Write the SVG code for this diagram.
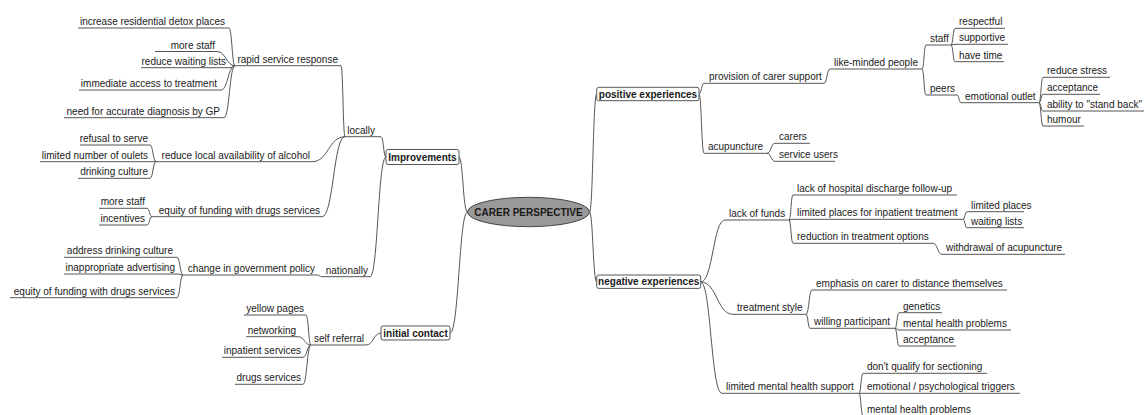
<svg xmlns="http://www.w3.org/2000/svg" width="1144" height="415" viewBox="0 0 1144 415">
<style>
text{font-family:"Liberation Sans",Arial,sans-serif;font-size:10px;fill:#1a1a1a}
.l{text-anchor:end}
.b{font-weight:bold}
.c{text-anchor:middle}
.u{stroke:#555;stroke-width:1;fill:none}
.cn path{stroke:#555;stroke-width:1;fill:none}
.box{fill:#fff;stroke:#555;stroke-width:1}
</style>
<rect width="1144" height="415" fill="#fff"/>
<g class="cn" id="connectors">
<path d="M235,65.7 C232,65.7 232,28 229,28"/>
<path d="M235,65.7 C226,65.7 226,51.5 217,51.5"/>
<path d="M235,65.7 C232.5,65.7 232.5,67.7 230,67.7"/>
<path d="M235,65.7 C228,65.7 228,90 221,90"/>
<path d="M235,65.7 C229.5,65.7 229.5,117.7 224,117.7"/>
<path d="M345,136.7 C343,136.7 343,65.7 341,65.7"/>
<path d="M345,136.7 C328.5,136.7 328.5,161.7 312,161.7"/>
<path d="M345,136.7 C333.5,136.7 333.5,216.7 322,216.7"/>
<path d="M156,161.7 C153,161.7 153,145 150,145"/>
<path d="M156,161.7 L150,161.7"/>
<path d="M156,161.7 C153,161.7 153,178.3 150,178.3"/>
<path d="M152,216.7 C149.5,216.7 149.5,208.3 147,208.3"/>
<path d="M152,216.7 C149.5,216.7 149.5,225 147,225"/>
<path d="M322,276.7 C319.5,276.7 319.5,275 317,275"/>
<path d="M183,275 C180,275 180,257.3 177,257.3"/>
<path d="M183,275 C180,275 180,274 177,274"/>
<path d="M183,275 C180,275 180,297.7 177,297.7"/>
<path d="M386,157 C383.5,157 383.5,136.7 381,136.7"/>
<path d="M386,157 C378,157 378,276.7 370,276.7"/>
<path d="M467.5,212 C463,212 463,157 459,157"/>
<path d="M467.5,212 C459,212 459,333 450,333"/>
<path d="M381,333 C373.5,333 373.5,345 366,345"/>
<path d="M311,345 C308.5,345 308.5,315 306,315"/>
<path d="M311,345 C304.5,345 304.5,336.7 298,336.7"/>
<path d="M311,345 C307,345 307,357.3 303,357.3"/>
<path d="M311,345 C307,345 307,384.3 303,384.3"/>
<path d="M589.5,212 C593,212 593,94 596.7,94"/>
<path d="M589.5,212 C593,212 593,282 596.7,282"/>
<path d="M699,94 C701.5,94 701.5,83.3 704,83.3"/>
<path d="M699,94 C701.5,94 701.5,153.3 704,153.3"/>
<path d="M824,83.3 C827,83.3 827,69 830,69"/>
<path d="M922,69 C924,69 924,45 926,45"/>
<path d="M922,69 C924,69 924,95 926,95"/>
<path d="M951,45 C953,45 953,28.3 955,28.3"/>
<path d="M951,45 L955,44.3"/>
<path d="M951,45 C953,45 953,61.7 955,61.7"/>
<path d="M957,95 C959,95 959,102.7 961,102.7"/>
<path d="M1039,102.7 C1041,102.7 1041,77.3 1043,77.3"/>
<path d="M1039,102.7 C1041,102.7 1041,94.3 1043,94.3"/>
<path d="M1039,102.7 C1041,102.7 1041,111 1043,111"/>
<path d="M1039,102.7 C1041,102.7 1041,126 1043,126"/>
<path d="M767,153.3 C771,153.3 771,143.3 775,143.3"/>
<path d="M767,153.3 C771,153.3 771,161.3 775,161.3"/>
<path d="M700.7,282 C713,282 713,220 725,220"/>
<path d="M700.7,282 C717,282 717,314.3 733,314.3"/>
<path d="M700.7,282 C711,282 711,393.3 722,393.3"/>
<path d="M789,220 C791,220 791,195 793,195"/>
<path d="M789,220 L793,219.3"/>
<path d="M789,220 C791,220 791,243.3 793,243.3"/>
<path d="M963,219.3 C965,219.3 965,211.7 967,211.7"/>
<path d="M963,219.3 C965,219.3 965,227.7 967,227.7"/>
<path d="M933,243.3 C937.5,243.3 937.5,254.3 942,254.3"/>
<path d="M806,314.3 C809,314.3 809,290 812,290"/>
<path d="M806,314.3 C808,314.3 808,328.3 810,328.3"/>
<path d="M895,328.3 C897,328.3 897,312.7 899,312.7"/>
<path d="M895,328.3 C897,328.3 897,330 899,330"/>
<path d="M895,328.3 C897,328.3 897,346 899,346"/>
<path d="M859,393.3 C861,393.3 861,373.3 863,373.3"/>
<path d="M859,393.3 L863,393.3"/>
<path d="M859,393.3 C861,393.3 861,416 863,416"/>
</g>
<g id="center"><ellipse cx="528.5" cy="212" rx="61" ry="14.7" fill="#999" stroke="#444"/><text class="b c" x="528.5" y="215.5">CARER PERSPECTIVE</text></g>
<g id="improvements"><rect class="box" x="386" y="149.5" width="73" height="15" rx="2"/><text class="b c" x="422.5" y="160.5">Improvements</text></g>
<g id="initial-contact"><rect class="box" x="381" y="326" width="69" height="14" rx="2"/><text class="b c" x="415.5" y="336.8">initial contact</text></g>
<g id="positive"><rect class="box" x="596.7" y="87.3" width="102.3" height="13.4" rx="2"/><text class="b c" x="648" y="97.6">positive experiences</text></g>
<g id="negative"><rect class="box" x="596.7" y="275" width="104" height="13.4" rx="2"/><text class="b c" x="648.7" y="285.4">negative experiences</text></g>
<g id="n1"><path class="u" d="M78,28H229"/><text class="l" x="225" y="25">increase residential detox places</text></g>
<g id="n2"><path class="u" d="M155,51.5H217"/><text class="l" x="215" y="48.5">more staff</text></g>
<g id="n3"><path class="u" d="M141,67.7H230"/><text class="l" x="226" y="64.7">reduce waiting lists</text></g>
<g id="n4"><path class="u" d="M79,90H221"/><text class="l" x="217" y="87">immediate access to treatment</text></g>
<g id="n5"><path class="u" d="M64,117.7H224"/><text class="l" x="220" y="114.7">need for accurate diagnosis by GP</text></g>
<g id="n6"><path class="u" d="M235,65.7H341"/><text class="l" x="338" y="62.7">rapid service response</text></g>
<g id="n7"><path class="u" d="M80,145H150"/><text class="l" x="148" y="142">refusal to serve</text></g>
<g id="n8"><path class="u" d="M40,161.7H150"/><text class="l" x="148" y="158.7">limited number of oulets</text></g>
<g id="n9"><path class="u" d="M78,178.3H150"/><text class="l" x="148" y="175.3">drinking culture</text></g>
<g id="n10"><path class="u" d="M156,161.7H312"/><text class="l" x="310" y="158.7">reduce local availability of alcohol</text></g>
<g id="n11"><path class="u" d="M99,208.3H147"/><text class="l" x="145" y="205.3">more staff</text></g>
<g id="n12"><path class="u" d="M99,225H147"/><text class="l" x="145" y="222">incentives</text></g>
<g id="n13"><path class="u" d="M152,216.7H322"/><text class="l" x="320" y="213.7">equity of funding with drugs services</text></g>
<g id="n14"><path class="u" d="M345,136.7H381"/><text class="l" x="375" y="133.7">locally</text></g>
<g id="n15"><path class="u" d="M64,257.3H177"/><text class="l" x="173" y="254.3">address drinking culture</text></g>
<g id="n16"><path class="u" d="M64,274H177"/><text class="l" x="175" y="271">inappropriate advertising</text></g>
<g id="n17"><path class="u" d="M10,297.7H177"/><text class="l" x="175" y="294.7">equity of funding with drugs services</text></g>
<g id="n18"><path class="u" d="M183,275H317"/><text class="l" x="315" y="272">change in government policy</text></g>
<g id="n19"><path class="u" d="M322,276.7H370"/><text class="l" x="368" y="273.7">nationally</text></g>
<g id="n20"><path class="u" d="M244,315H306"/><text class="l" x="304" y="312">yellow pages</text></g>
<g id="n21"><path class="u" d="M246,336.7H298"/><text class="l" x="296" y="333.7">networking</text></g>
<g id="n22"><path class="u" d="M222,357.3H303"/><text class="l" x="301" y="354.3">inpatient services</text></g>
<g id="n23"><path class="u" d="M235,384.3H303"/><text class="l" x="301" y="381.3">drugs services</text></g>
<g id="n24"><path class="u" d="M311,345H366"/><text class="l" x="364" y="342">self referral</text></g>
<g id="r1"><path class="u" d="M704,83.3H824"/><text x="709" y="80.3">provision of carer support</text></g>
<g id="r2"><path class="u" d="M830,69H922"/><text x="834" y="66">like-minded people</text></g>
<g id="r3"><path class="u" d="M926,45H951"/><text x="930" y="42">staff</text></g>
<g id="r4"><path class="u" d="M955,28.3H1005"/><text x="959" y="25.3">respectful</text></g>
<g id="r5"><path class="u" d="M955,44.3H1008"/><text x="959" y="41.3">supportive</text></g>
<g id="r6"><path class="u" d="M955,61.7H1004"/><text x="959" y="58.7">have time</text></g>
<g id="r7"><path class="u" d="M926,95H957"/><text x="930" y="92">peers</text></g>
<g id="r8"><path class="u" d="M961,102.7H1039"/><text x="965" y="99.7">emotional outlet</text></g>
<g id="r9"><path class="u" d="M1043,77.3H1110"/><text x="1047" y="74.3">reduce stress</text></g>
<g id="r10"><path class="u" d="M1043,94.3H1100"/><text x="1047" y="91.3">acceptance</text></g>
<g id="r11"><path class="u" d="M1043,111H1144"/><text x="1047" y="108">ability to "stand back"</text></g>
<g id="r12"><path class="u" d="M1043,126H1084"/><text x="1047" y="123">humour</text></g>
<g id="r13"><path class="u" d="M704,153.3H767"/><text x="708" y="150.3">acupuncture</text></g>
<g id="r14"><path class="u" d="M775,143.3H810"/><text x="779" y="140.3">carers</text></g>
<g id="r15"><path class="u" d="M775,161.3H835"/><text x="779" y="158.3">service users</text></g>
<g id="r16"><path class="u" d="M725,220H789"/><text x="729" y="217">lack of funds</text></g>
<g id="r17"><path class="u" d="M793,195H957"/><text x="797" y="192">lack of hospital discharge follow-up</text></g>
<g id="r18"><path class="u" d="M793,219.3H963"/><text x="797" y="216.3">limited places for inpatient treatment</text></g>
<g id="r19"><path class="u" d="M793,243.3H933"/><text x="797" y="240.3">reduction in treatment options</text></g>
<g id="r20"><path class="u" d="M967,211.7H1024"/><text x="971" y="208.7">limited places</text></g>
<g id="r21"><path class="u" d="M967,227.7H1024"/><text x="971" y="224.7">waiting lists</text></g>
<g id="r22"><path class="u" d="M942,254.3H1065"/><text x="946" y="251.3">withdrawal of acupuncture</text></g>
<g id="r23"><path class="u" d="M733,314.3H806"/><text x="737" y="311.3">treatment style</text></g>
<g id="r24"><path class="u" d="M812,290H1007"/><text x="816" y="287">emphasis on carer to distance themselves</text></g>
<g id="r25"><path class="u" d="M810,328.3H895"/><text x="814" y="325.3">willing participant</text></g>
<g id="r26"><path class="u" d="M899,312.7H942"/><text x="903" y="309.7">genetics</text></g>
<g id="r27"><path class="u" d="M899,330H1011"/><text x="903" y="327">mental health problems</text></g>
<g id="r28"><path class="u" d="M899,346H956"/><text x="903" y="343">acceptance</text></g>
<g id="r29"><path class="u" d="M722,393.3H859"/><text x="726" y="390.3">limited mental health support</text></g>
<g id="r30"><path class="u" d="M863,373.3H987"/><text x="867" y="370.3">don't qualify for sectioning</text></g>
<g id="r31"><path class="u" d="M863,393.3H1020"/><text x="867" y="390.3">emotional / psychological triggers</text></g>
<g id="r32"><path class="u" d="M863,416H975"/><text x="867" y="413">mental health problems</text></g>
</svg>
